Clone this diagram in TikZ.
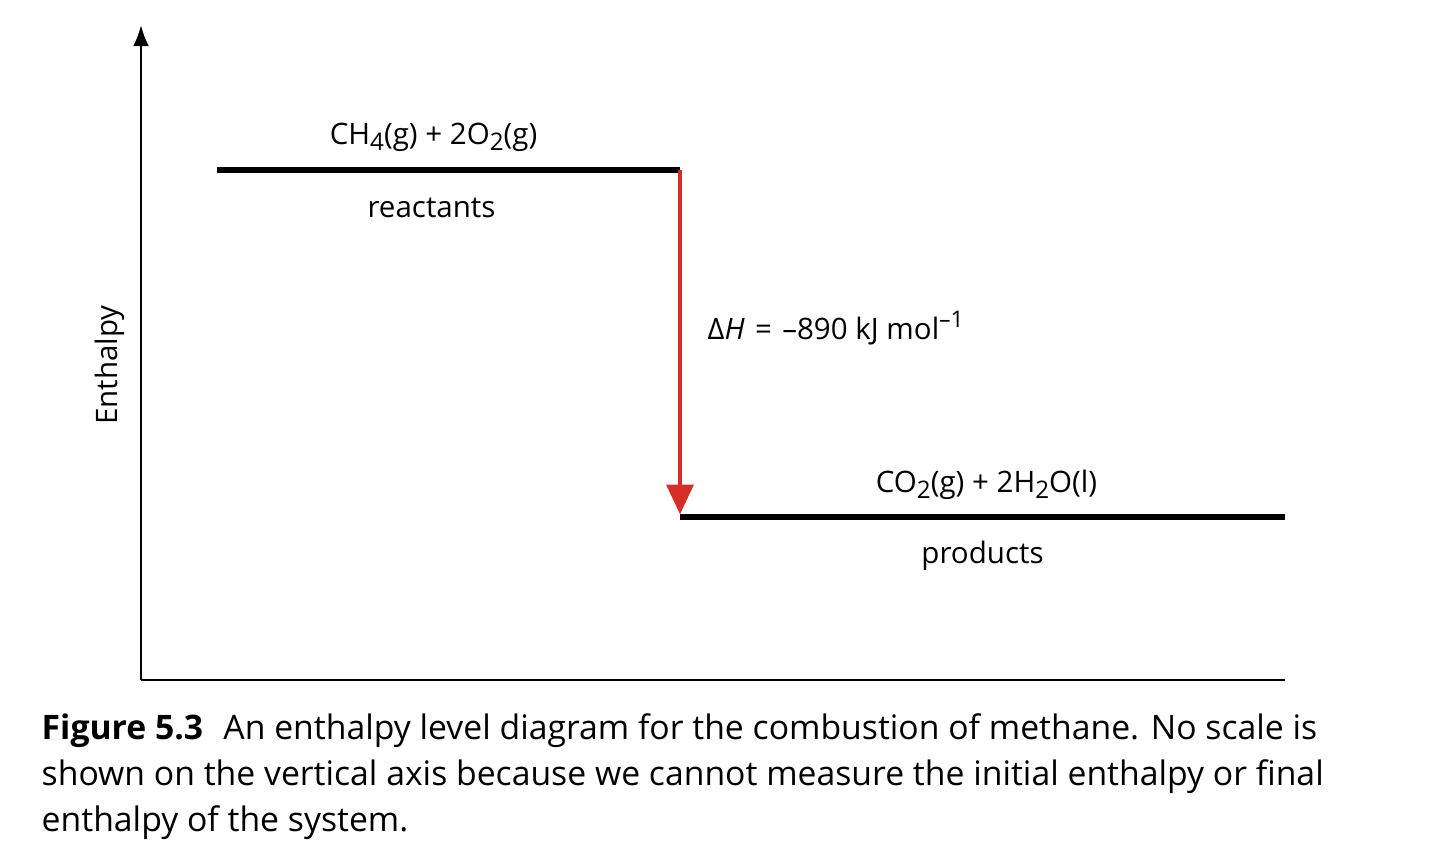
\documentclass[tikz,border=0pt]{standalone}
\usepackage{fontspec}
\setmainfont{Open Sans}
\usepackage{graphicx}
\usepackage{tikz}
\usetikzlibrary{arrows.meta,positioning,calc}
\definecolor{dhred}{RGB}{211,47,39}
\colorlet{levelcolor}{black}
\newcommand{\chsub}[1]{\raisebox{-0.38ex}{\scalebox{0.82}{#1}}}
\newcommand{\chsup}[1]{\raisebox{0.75ex}{\scalebox{0.78}{#1}}}

\begin{document}
\begin{tikzpicture}[
  axis/.style={line width=0.7pt, -{Latex[length=6pt, width=4.5pt]}},
  level/.style={line width=1.45pt, color=levelcolor},
  species/.style={font=\fontsize{8.4pt}{10pt}\selectfont, inner sep=2pt},
  dharr/.style={line width=1.4pt, color=dhred, -{Triangle[length=8.5pt, width=7.5pt]}},
  caption/.style={font=\fontsize{9.6pt}{13.1pt}\selectfont, align=left, inner sep=0pt}
]
\useasboundingbox (0,0) rectangle (14.52,8.56);

% axes
\coordinate (origin) at (1.41,1.76);
\coordinate (ytop) at (1.41,8.31);
\coordinate (xend) at (12.85,1.76);
\draw[axis] (origin) -- (ytop);
\draw[line width=0.7pt] (origin) -- (xend);
\node[species, rotate=90] (ylab) at (1.10,4.91) {Enthalpy};

% enthalpy levels
\coordinate (r1) at (2.17,6.86);
\coordinate (r2) at (6.80,6.86);
\coordinate (p1) at (6.80,3.39);
\coordinate (p2) at (12.85,3.39);
\draw[level] (r1) -- (r2);
\draw[level] (p1) -- (p2);

\node[species, above=0.11cm of $(r1)!0.5!(r2)$, xshift=-0.15cm] (reac) {CH\chsub{4}(g) + 2O\chsub{2}(g)};
\node[species, below=0.20cm of $(r1)!0.5!(r2)$, xshift=-0.17cm] (reaclab) {reactants};
\node[species, above=0.10cm of $(p1)!0.5!(p2)$, xshift=0.04cm] (prod) {CO\chsub{2}(g) + 2H\chsub{2}O(l)};
\node[species, below=0.16cm of $(p1)!0.5!(p2)$] (prodlab) {products};

% enthalpy change
\draw[dharr, shorten >=0.7pt] (r2) -- (p1);
\node[species, anchor=west] (dh) at (7.00,5.28)
  {Δ\textit{H}\hspace{0.35em}=\hspace{0.35em}–890 kJ mol\chsup{–1}};

% caption
\node[caption, anchor=north west] (cap) at (0.41,1.43)
  {\textbf{Figure 5.3}\hspace{0.6em}An enthalpy level diagram for the combustion of methane. No scale is\\
   shown on the vertical axis because we cannot measure the initial enthalpy or final\\
   enthalpy of the system.};
\end{tikzpicture}
\end{document}
